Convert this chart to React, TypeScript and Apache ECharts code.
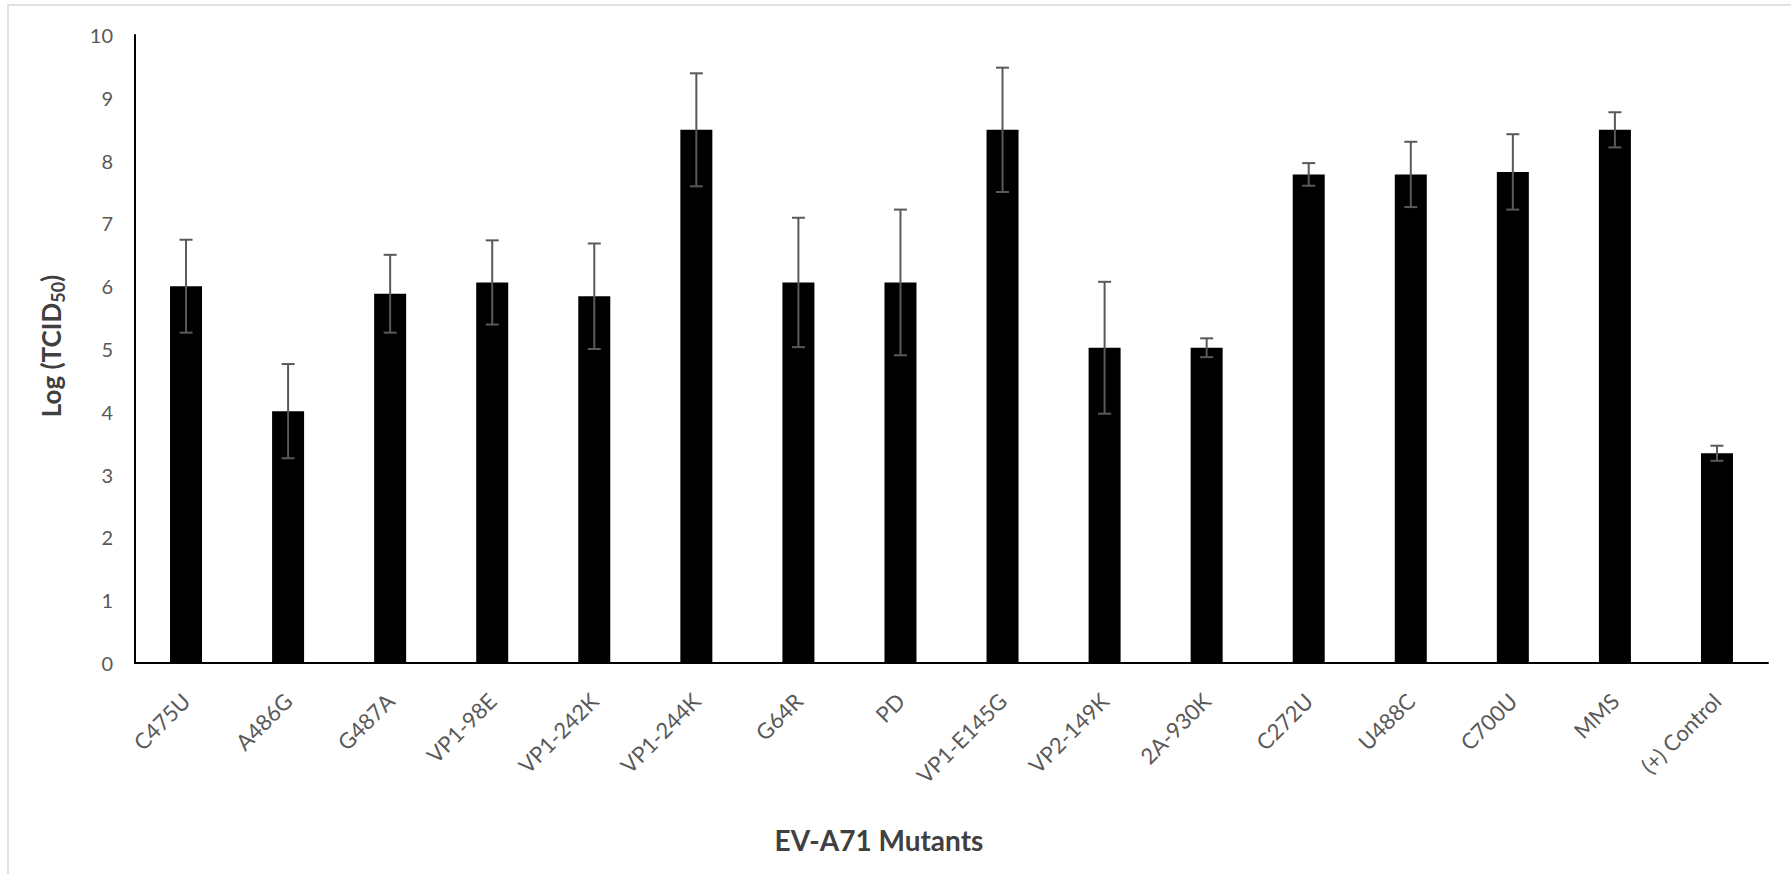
import React, { useEffect, useRef } from "react";
import * as echarts from "echarts";

const categories = [
  "C475U", "A486G", "G487A", "VP1-98E", "VP1-242K", "VP1-244K", "G64R", "PD",
  "VP1-E145G", "VP2-149K", "2A-930K", "C272U", "U488C", "C700U", "MMS", "(+) Control",
];
const means = [6.0, 4.01, 5.88, 6.06, 5.84, 8.49, 6.06, 6.06, 8.49, 5.02, 5.02, 7.78, 7.78, 7.82, 8.49, 3.34];
const errors = [0.74, 0.75, 0.62, 0.67, 0.84, 0.9, 1.03, 1.16, 0.99, 1.05, 0.15, 0.18, 0.52, 0.6, 0.28, 0.12];
const yTicks = { min: 0, max: 10, interval: 1 };

const FONT = "Lato, 'Noto Sans', sans-serif";

export default function App() {
  const ref = useRef<HTMLDivElement>(null);
  useEffect(() => {
    if (!ref.current) return;
    const chart = echarts.init(ref.current, null, { renderer: "svg" });
    const errData = categories.map((_, i) => [i, means[i] - errors[i], means[i] + errors[i]]);
    const errStyle = { stroke: "#595959", lineWidth: 2 };
    chart.setOption({
      animation: false,
      backgroundColor: "#ffffff",
      grid: { left: 135, right: 23, top: 35, bottom: 211, containLabel: false },
      xAxis: {
        type: "category",
        data: categories,
        boundaryGap: true,
        axisTick: { show: false },
        axisLine: { show: true, lineStyle: { color: "#000000", width: 2 } },
        axisLabel: {
          interval: 0,
          rotate: 45,
          margin: 34,
          fontSize: 22,
          color: "#595959",
          fontFamily: FONT,
        },
        splitLine: { show: false },
      },
      yAxis: {
        type: "value",
        min: yTicks.min,
        max: yTicks.max,
        interval: yTicks.interval,
        axisLine: { show: true, lineStyle: { color: "#000000", width: 2 } },
        axisTick: { show: false },
        splitLine: { show: false },
        axisLabel: { margin: 22, fontSize: 20, color: "#595959", fontFamily: FONT },
      },
      series: [
        {
          type: "bar",
          data: means,
          barWidth: 32,
          itemStyle: { color: "#000000" },
          z: 2,
        },
        {
          type: "custom",
          data: errData,
          encode: { x: 0, y: [1, 2] },
          z: 3,
          renderItem: (params: any, api: any) => {
            const x = api.value(0);
            const pLo = api.coord([x, api.value(1)]);
            const pHi = api.coord([x, api.value(2)]);
            const hw = 6.5;
            return {
              type: "group",
              children: [
                { type: "line", shape: { x1: pHi[0], y1: pHi[1], x2: pLo[0], y2: pLo[1] }, style: errStyle },
                { type: "line", shape: { x1: pHi[0] - hw, y1: pHi[1], x2: pHi[0] + hw, y2: pHi[1] }, style: errStyle },
                { type: "line", shape: { x1: pLo[0] - hw, y1: pLo[1], x2: pLo[0] + hw, y2: pLo[1] }, style: errStyle },
              ],
            };
          },
        },
      ],
      graphic: [
        {
          type: "rect",
          silent: true,
          shape: { x: 8, y: 5, width: 1820, height: 900 },
          style: { fill: "none", stroke: "#d9d9d9", lineWidth: 1.5 },
        },
        {
          type: "text",
          x: 879,
          y: 840,
          silent: true,
          style: {
            text: "EV-A71 Mutants",
            fontSize: 28,
            fontWeight: "bold",
            fontFamily: FONT,
            fill: "#404040",
            align: "center",
            verticalAlign: "middle",
            textAlign: "center",
            textVerticalAlign: "middle",
          },
        },
        {
          type: "text",
          x: 51,
          y: 346,
          rotation: Math.PI / 2,
          silent: true,
          style: {
            text: "{m|Log (TCID}{s|50}{m|)}",
            align: "center",
            verticalAlign: "middle",
            textAlign: "center",
            textVerticalAlign: "middle",
            fill: "#404040",
            rich: {
              m: { fontSize: 26, fontWeight: "bold", fontFamily: FONT, fill: "#404040", color: "#404040", lineHeight: 32 },
              s: { fontSize: 18, fontWeight: "bold", fontFamily: FONT, fill: "#404040", color: "#404040", lineHeight: 18, verticalAlign: "bottom" },
            },
          },
        },
      ],
    });
    return () => chart.dispose();
  }, []);
  return (
    <div
      ref={ref}
      style={{ position: "fixed", left: 0, top: 0, width: 1791, height: 874, background: "#ffffff" }}
    />
  );
}
